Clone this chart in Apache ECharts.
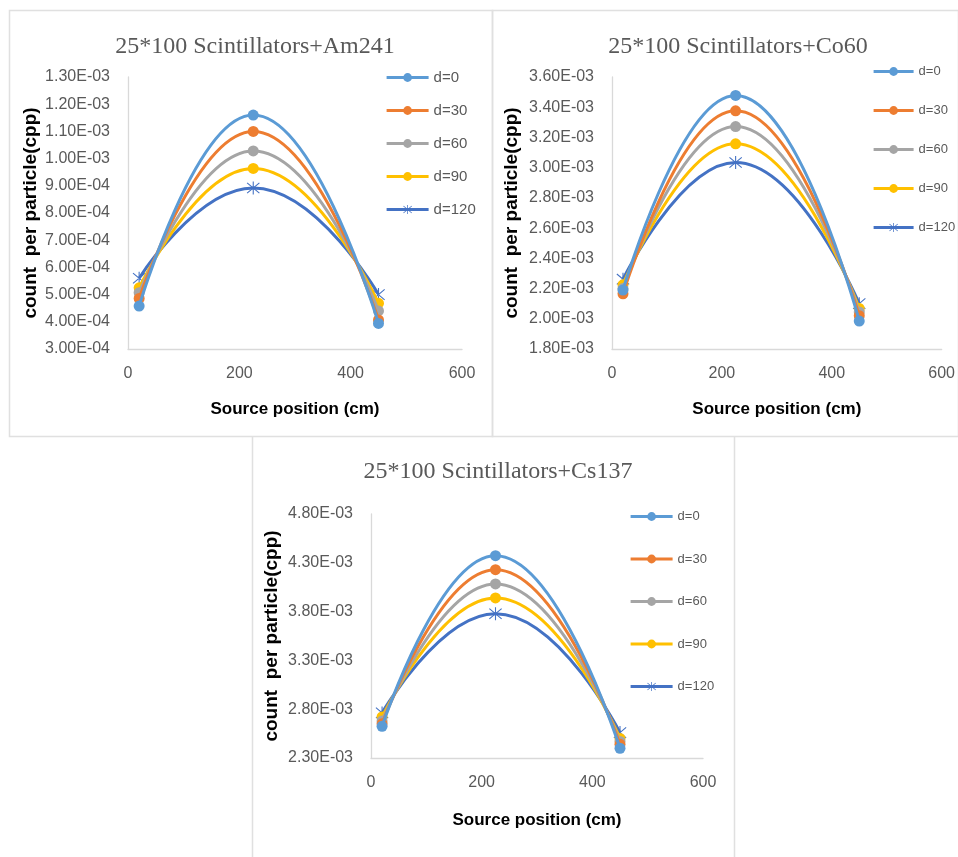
<!DOCTYPE html>
<html>
<head>
<meta charset="utf-8">
<script src="https://cdn.jsdelivr.net/npm/echarts@6/dist/echarts.min.js"></script>
<style>
html,body{margin:0;padding:0;background:#fff;}
#c{width:958px;height:857px;}
</style>
</head>
<body>
<div id="c"></div>
<script>
// ---- data ----
const seriesNames = ['d=0', 'd=30', 'd=60', 'd=90', 'd=120'];
const positions = [20, 225, 450];
const titles = ['25*100 Scintillators+Am241', '25*100 Scintillators+Co60', '25*100 Scintillators+Cs137'];
const xTicks = [0, 200, 400, 600];

const am241_d0   = [4.58e-4, 1.160e-3, 3.94e-4];
const am241_d30  = [4.86e-4, 1.100e-3, 4.07e-4];
const am241_d60  = [5.07e-4, 1.028e-3, 4.40e-4];
const am241_d90  = [5.25e-4, 9.64e-4, 4.68e-4];
const am241_d120 = [5.60e-4, 8.92e-4, 5.00e-4];

const co60_d0   = [2.190e-3, 3.478e-3, 1.985e-3];
const co60_d30  = [2.165e-3, 3.376e-3, 2.020e-3];
const co60_d60  = [2.200e-3, 3.272e-3, 2.045e-3];
const co60_d90  = [2.225e-3, 3.158e-3, 2.068e-3];
const co60_d120 = [2.262e-3, 3.034e-3, 2.100e-3];

const cs137_d0   = [2.625e-3, 4.373e-3, 2.400e-3];
const cs137_d30  = [2.650e-3, 4.229e-3, 2.440e-3];
const cs137_d60  = [2.680e-3, 4.083e-3, 2.470e-3];
const cs137_d90  = [2.720e-3, 3.940e-3, 2.500e-3];
const cs137_d120 = [2.762e-3, 3.778e-3, 2.560e-3];

const am241Ticks = [3.0e-4, 4.0e-4, 5.0e-4, 6.0e-4, 7.0e-4, 8.0e-4, 9.0e-4, 1.0e-3, 1.1e-3, 1.2e-3, 1.3e-3];
const co60Ticks  = [1.8e-3, 2.0e-3, 2.2e-3, 2.4e-3, 2.6e-3, 2.8e-3, 3.0e-3, 3.2e-3, 3.4e-3, 3.6e-3];
const cs137Ticks = [2.3e-3, 2.8e-3, 3.3e-3, 3.8e-3, 4.3e-3, 4.8e-3];

const colors = ['#5B9BD5', '#ED7D31', '#A5A5A5', '#FFC000', '#4472C4'];

// ---- helpers ----
function sci(v) {
  if (v === 0) return '0.00E+00';
  let e = Math.floor(Math.log10(Math.abs(v)));
  let m = v / Math.pow(10, e);
  m = Math.round(m * 100) / 100;
  if (m >= 10) { m /= 10; e++; }
  if (m < 1) { m *= 10; e--; }
  return m.toFixed(2) + 'E' + (e < 0 ? '-' : '+') + String(Math.abs(e)).padStart(2, '0');
}
function labelFor(ticks) {
  return function (v) {
    for (const t of ticks) { if (Math.abs(v - t) < 1e-9) return sci(t); }
    return '';
  };
}
const star = 'path://M9.2,0L10.8,0L10.8,20L9.2,20Z M1.53,1.4L19.53,17.4L18.47,18.6L0.47,2.6Z M18.47,1.4L0.47,17.4L1.53,18.6L19.53,2.6Z';

const datasets = [
  [am241_d0, am241_d30, am241_d60, am241_d90, am241_d120],
  [co60_d0, co60_d30, co60_d60, co60_d90, co60_d120],
  [cs137_d0, cs137_d30, cs137_d60, cs137_d90, cs137_d120]
];
const yConf = [
  { min: 3e-4, max: 1.3e-3, interval: 1e-4, ticks: am241Ticks },
  { min: 1.8e-3, max: 3.6e-3, interval: 1e-4, ticks: co60Ticks },
  { min: 2.3e-3, max: 4.8e-3, interval: 1e-4, ticks: cs137Ticks }
];
const grids = [
  { left: 128, top: 77, width: 334, height: 272 },
  { left: 612, top: 77, width: 331, height: 272 },
  { left: 371, top: 514, width: 332, height: 244 }
];
const titlePos = [[250, 30], [733, 30], [493, 455]];
const legendConf = [
  { left: 380, top: 65, gap: 18, font: 15, w: 42 },
  { left: 867, top: 60, gap: 26, font: 13, w: 40 },
  { left: 624, top: 505, gap: 29.5, font: 13, w: 42 }
];
const yNameGap = [88, 91, 90];
const xNameGap = [52, 52, 54];

const GRAY = '#D9D9D9';
const TXT = '#595959';

const option = {
  animation: false,
  backgroundColor: '#fff',
  title: titles.map((t, i) => ({
    text: t, left: titlePos[i][0], top: titlePos[i][1], textAlign: 'center',
    textStyle: { fontFamily: 'Liberation Serif', fontWeight: 'normal', fontSize: 24, color: TXT }
  })),
  legend: legendConf.map((l, i) => ({
    data: seriesNames, orient: 'vertical', left: l.left, top: l.top, itemGap: l.gap,
    itemWidth: l.w, itemHeight: 11, itemTextGap: 4, selectedMode: false,
    lineStyle: { width: 3.2 },
    textStyle: { fontFamily: 'Liberation Sans', fontSize: l.font, color: TXT }
  })),
  grid: grids.map(g => Object.assign({ containLabel: false }, g)),
  xAxis: grids.map((g, i) => ({
    type: 'value', gridIndex: i, min: xTicks[0], max: xTicks[xTicks.length - 1], interval: 200,
    name: 'Source position (cm)', nameLocation: 'middle', nameGap: xNameGap[i],
    nameTextStyle: { fontFamily: 'Liberation Sans', fontWeight: 'bold', fontSize: 17, color: '#000' },
    axisLine: { show: true, lineStyle: { color: GRAY, width: 1.3 } },
    axisTick: { show: false }, splitLine: { show: false },
    axisLabel: { margin: 17, fontFamily: 'Liberation Sans', fontSize: 16, color: TXT }
  })),
  yAxis: yConf.map((y, i) => ({
    type: 'value', gridIndex: i, min: y.min, max: y.max, interval: y.interval,
    name: 'count  per particle(cpp)', nameLocation: 'middle', nameGap: yNameGap[i],
    nameTextStyle: { fontFamily: 'Liberation Sans', fontWeight: 'bold', fontSize: 19, color: '#000' },
    axisLine: { show: true, lineStyle: { color: GRAY, width: 1.3 } },
    axisTick: { show: false }, splitLine: { show: false },
    axisLabel: { margin: 18, fontFamily: 'Liberation Sans', fontSize: 16, color: TXT, formatter: labelFor(y.ticks) }
  })),
  series: [],
  graphic: [
    { type: 'rect', shape: { x: 9.5, y: 10.5, width: 483, height: 426 }, style: { fill: 'none', stroke: '#E0E0E0', lineWidth: 1.5 }, silent: true, z: -10 },
    { type: 'rect', shape: { x: 492.5, y: 10.5, width: 466, height: 426 }, style: { fill: 'none', stroke: '#E0E0E0', lineWidth: 1.5 }, silent: true, z: -10 },
    { type: 'line', shape: { x1: 252.5, y1: 436.5, x2: 252.5, y2: 857 }, style: { stroke: '#E0E0E0', lineWidth: 1.5 }, silent: true, z: -10 },
    { type: 'line', shape: { x1: 734.5, y1: 436.5, x2: 734.5, y2: 857 }, style: { stroke: '#E0E0E0', lineWidth: 1.5 }, silent: true, z: -10 }
  ]
};

datasets.forEach((set, gi) => {
  set.forEach((vals, si) => {
    option.series.push({
      type: 'line', name: seriesNames[si], xAxisIndex: gi, yAxisIndex: gi,
      data: positions.map((p, k) => [p, vals[k]]),
      smooth: 0.5,
      symbol: si === 4 ? star : 'circle',
      symbolSize: si === 4 ? 13 : 11,
      showAllSymbol: true,
      lineStyle: { width: 3, color: colors[si] },
      itemStyle: { color: colors[si] },
      z: 10 - si
    });
  });
});

const chart = echarts.init(document.getElementById('c'), null, { renderer: 'canvas' });
chart.setOption(option);
</script>
</body>
</html>
